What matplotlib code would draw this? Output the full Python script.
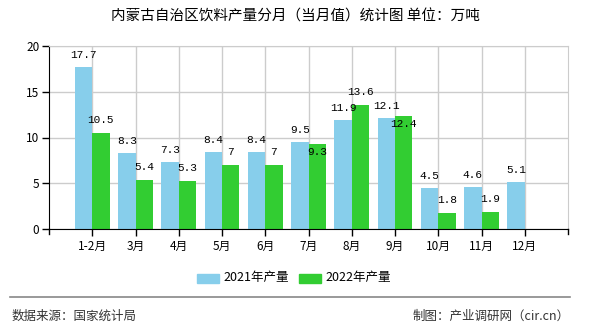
import numpy as np
import matplotlib
matplotlib.use("Agg")
import matplotlib.pyplot as plt
from matplotlib.patches import Rectangle
from matplotlib.lines import Line2D

plt.rcParams['font.family'] = ['Noto Sans CJK SC', 'DejaVu Sans']

# 月度产量（万吨）
months = ["1-2月", "3月", "4月", "5月", "6月", "7月", "8月", "9月", "10月", "11月", "12月"]
prod_2021 = [17.7, 8.3, 7.3, 8.4, 8.4, 9.5, 11.9, 12.1, 4.5, 4.6, 5.1]
prod_2022 = [10.5, 5.4, 5.3, 7, 7, 9.3, 13.6, 12.4, 1.8, 1.9]
series_names = ["2021年产量", "2022年产量"]
yticks = [0, 5, 10, 15, 20]

c2021 = "#87CEEB"
c2022 = "#32CD32"

W, H = 590, 330
fig = plt.figure(figsize=(W / 100, H / 100), dpi=100)
ax = fig.add_axes([49 / W, (H - 229) / H, 519 / W, 183 / H])

x = np.arange(len(months))
bw = 0.4
ax.bar(x[:len(prod_2021)] - bw / 2, prod_2021, bw, color=c2021, zorder=3)
ax.bar(x[:len(prod_2022)] + bw / 2, prod_2022, bw, color=c2022, zorder=3)

ax.set_xlim(-1, len(months))
ax.set_ylim(0, 20)
ax.set_yticks(yticks)
ax.set_xticks(x)
ax.set_xticklabels(months, fontsize=8.5)
ax.tick_params(axis="y", labelsize=8.5, length=5, width=1, color="black", pad=2)
ax.tick_params(axis="x", length=5, width=1, color="black", pad=3)

# 网格线
ax.grid(True, color="#cccccc", linewidth=1, zorder=0)
for s in ["top", "right"]:
    ax.spines[s].set_color("#cccccc")
ax.spines["left"].set_color("black")
ax.spines["bottom"].set_color("black")
ax.spines["bottom"].set_zorder(4)

# 左右端刻度
for xe in (-1, len(months)):
    ax.plot([xe, xe], [0, -0.55], color="black", lw=1, clip_on=False, zorder=5)

# 数值标注
label_font = dict(family="Liberation Mono", fontsize=8, ha="center", va="center", zorder=6)
for i, v in enumerate(prod_2021):
    ax.annotate(f"{v:g}", (x[i] - bw / 2, v), xytext=(0, 12),
                textcoords="offset pixels", **label_font)
for i, v in enumerate(prod_2022):
    dy = -8 if i in (5, 7) else 13
    ax.annotate(f"{v:g}", (x[i] + bw / 2, v), xytext=(0, dy),
                textcoords="offset pixels", **label_font)

# 标题
fig.text(0.5, 1 - 17 / H, "内蒙古自治区饮料产量分月（当月值）统计图 单位：万吨",
         fontsize=10.5, ha="center", va="center")

# 图例
ly = 1 - 278 / H
for px, name, col in [(197, series_names[0], c2021), (299, series_names[1], c2022)]:
    fig.patches.append(Rectangle((px / W, ly - 4.5 / H), 22 / W, 9 / H,
                                 color=col, transform=fig.transFigure))
    fig.text((px + 26) / W, ly, name, fontsize=9, ha="left", va="center")

# 分隔线和来源
fig.lines.append(Line2D([10 / W, 570 / W], [1 - 297 / H] * 2, color="#888888",
                        lw=1.2, transform=fig.transFigure))
fig.text(12 / W, 1 - 316 / H, "数据来源：国家统计局", fontsize=9, color="#333333",
         ha="left", va="center")
fig.text(570 / W, 1 - 316 / H, "制图：产业调研网（cir.cn）", fontsize=9, color="#333333",
         ha="right", va="center")

fig.savefig("out.png", dpi=100)
